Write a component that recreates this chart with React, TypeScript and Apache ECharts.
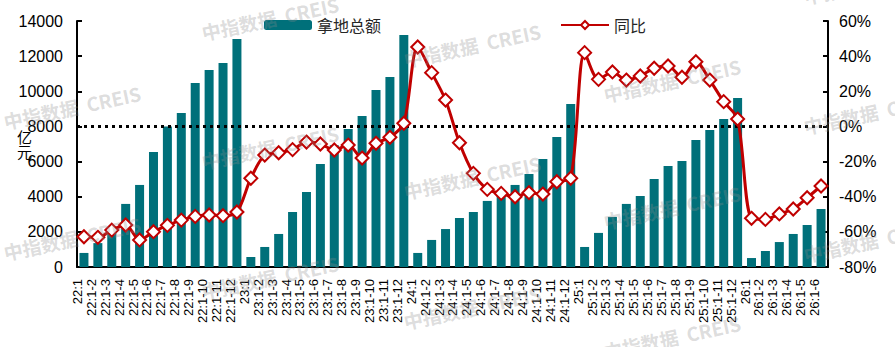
import React, { useEffect, useRef } from "react";
import * as echarts from "echarts";

// Period labels: cumulative months per year
const periods22 = ["22:1", "22:1-2", "22:1-3", "22:1-4", "22:1-5", "22:1-6", "22:1-7", "22:1-8", "22:1-9", "22:1-10", "22:1-11", "22:1-12"];
const periods23 = ["23:1", "23:1-2", "23:1-3", "23:1-4", "23:1-5", "23:1-6", "23:1-7", "23:1-8", "23:1-9", "23:1-10", "23:1-11", "23:1-12"];
const periods24 = ["24:1", "24:1-2", "24:1-3", "24:1-4", "24:1-5", "24:1-6", "24:1-7", "24:1-8", "24:1-9", "24:1-10", "24:1-11", "24:1-12"];
const periods25 = ["25:1", "25:1-2", "25:1-3", "25:1-4", "25:1-5", "25:1-6", "25:1-7", "25:1-8", "25:1-9", "25:1-10", "25:1-11", "25:1-12"];
const periods26 = ["26:1", "26:1-2", "26:1-3", "26:1-4", "26:1-5", "26:1-6"];

// 拿地总额 (亿元)
const amount22 = [800, 1360, 2210, 3590, 4670, 6545, 8000, 8760, 10470, 11210, 11610, 12980];
const amount23 = [570, 1140, 1880, 3130, 4270, 5860, 6930, 7850, 8590, 10070, 10810, 13200];
const amount24 = [800, 1540, 2160, 2790, 3130, 3760, 4290, 4670, 5290, 6150, 7400, 9280];
const amount25 = [1140, 1940, 2850, 3590, 4040, 5010, 5750, 6030, 7230, 7800, 8420, 9620];
const amount26 = [510, 910, 1420, 1880, 2390, 3300];

// 同比 (%)
const yoy22 = [-62.8, -63.1, -59, -56.1, -64.6, -59.9, -56.3, -53.3, -51.2, -50.4, -50.8, -48.7];
const yoy23 = [-29.5, -16.3, -15, -13.2, -8.9, -10, -13.4, -10.6, -18, -9.6, -6.2, 1.8];
const yoy24 = [45.2, 30.6, 15, -9.3, -26.7, -35.8, -38.1, -40, -37.7, -38.5, -31.5, -29.5];
const yoy25 = [42, 26.8, 31, 26.4, 28.7, 33.1, 34.4, 28, 36.8, 26.4, 14.1, 4.2];
const yoy26 = [-52.3, -52.9, -49.8, -47, -40.6, -33.9];

const leftTicks = { min: 0, max: 14000, interval: 2000 };
const rightTicks = { min: -80, max: 60, interval: 20 };

const categories = [...periods22, ...periods23, ...periods24, ...periods25, ...periods26];
const amounts = [...amount22, ...amount23, ...amount24, ...amount25, ...amount26];
const yoy = [...yoy22, ...yoy23, ...yoy24, ...yoy25, ...yoy26];

const BAR = "#00707A";
const RED = "#C00000";
const LATIN = "'Liberation Sans', Arial, sans-serif";
const CJK = "'Noto Sans CJK SC', 'Noto Sans', sans-serif";

// Repeated brand watermark centres
const watermarkSpots: [number, number][] = [
  [72, 107], [72, 238],
  [270, 18], [270, 147], [270, 277],
  [472, 45], [472, 177], [472, 307],
  [672, 80], [672, 207], [672, 337],
  [872, -18], [872, 112], [872, 240],
];

export default function App() {
  const ref = useRef<HTMLDivElement>(null);

  useEffect(() => {
    document.body.style.margin = "0";
    if (!ref.current) return;
    const chart = echarts.init(ref.current, undefined, { renderer: "svg" });

    const axisLabelStyle = { color: "#000", fontSize: 16, fontFamily: LATIN };

    chart.setOption({
      animation: false,
      backgroundColor: "#fff",
      grid: { left: 77, right: 67, top: 21, bottom: 80, containLabel: false },
      legend: {
        data: ["拿地总额", "同比"],
        left: 259,
        top: 12,
        itemWidth: 48,
        itemHeight: 10,
        itemGap: 179,
        textStyle: { fontSize: 16, color: "#262626", fontFamily: CJK },
      },
      xAxis: {
        type: "category",
        data: categories,
        axisLine: { lineStyle: { color: "#000", width: 2 } },
        axisTick: { inside: true, length: 5, lineStyle: { color: "#000", width: 1.5 } },
        axisLabel: {
          interval: 0,
          rotate: 90,
          margin: 12,
          color: "#000",
          fontSize: 13,
          fontFamily: LATIN,
          verticalAlign: "bottom",
        },
      },
      yAxis: [
        {
          type: "value",
          ...leftTicks,
          axisLine: { show: true, lineStyle: { color: "#000", width: 2 } },
          axisTick: { show: true, inside: true, length: 5, lineStyle: { color: "#000", width: 2 } },
          axisLabel: { ...axisLabelStyle, margin: 14, formatter: (v: number) => String(v) },
          splitLine: { show: false },
        },
        {
          type: "value",
          ...rightTicks,
          position: "right",
          axisLine: { show: true, lineStyle: { color: "#000", width: 2 } },
          axisTick: { show: true, inside: true, length: 5, lineStyle: { color: "#000", width: 2 } },
          axisLabel: { ...axisLabelStyle, margin: 11, formatter: "{value}%" },
          splitLine: { show: false },
        },
      ],
      series: [
        {
          name: "拿地总额",
          type: "bar",
          data: amounts,
          barWidth: 9,
          itemStyle: { color: BAR },
          z: 2,
        },
        {
          name: "同比",
          type: "line",
          yAxisIndex: 1,
          data: yoy,
          smooth: 0.3,
          symbol: "diamond",
          symbolSize: 13,
          lineStyle: { color: RED, width: 3 },
          itemStyle: { color: "#fff", borderColor: RED, borderWidth: 2 },
          z: 4,
          markLine: {
            silent: true,
            symbol: "none",
            label: { show: false },
            lineStyle: { color: "#000", width: 3, type: [3, 4] },
            data: [{ yAxis: 0 }],
            z: 3,
          },
        },
      ],
      graphic: [
        // unit of the left axis, stacked vertically
        {
          type: "text",
          left: 17,
          top: 129,
          silent: true,
          z: 50,
          style: {
            text: "亿\n元",
            fill: "#000",
            font: `15px ${CJK}`,
            lineHeight: 15,
          },
        },
        ...watermarkSpots.map(([x, y]) => ({
          type: "text",
          x,
          y,
          rotation: 0.21,
          silent: true,
          z: 100,
          style: {
            text: "中指数据  CREIS",
            fill: "rgba(140,140,140,0.3)",
            font: `bold 19px ${CJK}`,
            align: "center",
            verticalAlign: "middle",
          },
        })),
      ],
    });

    return () => chart.dispose();
  }, []);

  return <div ref={ref} style={{ width: 895, height: 347 }} />;
}
